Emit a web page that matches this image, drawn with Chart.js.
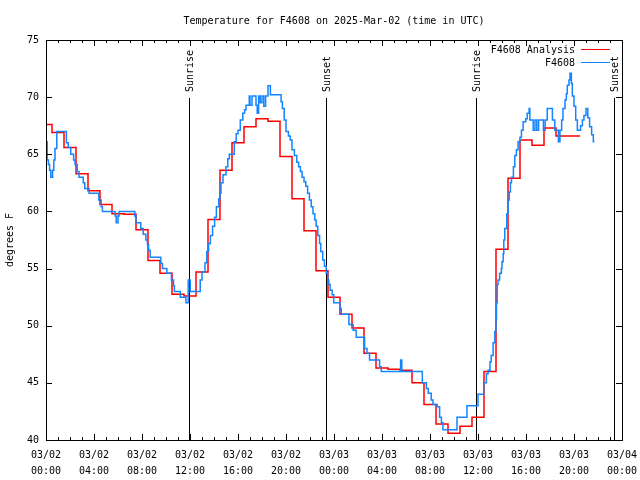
<!DOCTYPE html>
<html>
<head>
<meta charset="utf-8">
<script src="https://cdn.jsdelivr.net/npm/chart.js@4"></script>
<style>
    html, body { margin: 0; padding: 0; background: #fff; }
    #wrap { width: 640px; height: 480px; }
</style>
</head>
<body>
<div id="wrap"><canvas id="chart" width="640" height="480"></canvas></div>
<script>
// === DATA (hours since 03/02 00:00 UTC, degrees F) ===
const analysisHours = [0, 1, 2, 3, 4, 5, 6, 7, 8, 9, 10, 11, 12, 13, 14, 15, 16, 17, 18, 19, 20, 21, 22,
    23, 24, 25, 26, 27, 28, 29, 30, 31, 32, 33, 34, 35, 36, 37, 38, 39, 40, 41, 42, 43, 44, 44.5];
const analysisTemps = [67.6, 66.9, 65.6, 63.3, 61.8, 60.6, 59.8, 59.75, 58.4, 55.7, 54.6, 52.75, 52.6, 54.7,
    59.3, 63.6, 66.0, 67.4, 68.1, 67.9, 64.8, 61.1, 58.3, 54.8, 52.5, 51.0, 49.8, 47.6, 46.3, 46.2, 46.1,
    45.0, 43.1, 41.4, 40.6, 41.2, 42.0, 46.0, 56.7, 62.9, 66.25, 65.8, 67.3, 66.6, 66.6, 66.6];

// each observation holds from its time until the next one
const obsHours = [0.00, 0.10, 0.20, 0.30, 0.40, 0.55, 0.65, 0.75, 0.90, 1.70, 1.85, 2.06, 2.30, 2.42, 2.60,
    2.75, 3.10, 3.23, 3.59, 4.40, 4.60, 4.70, 5.76, 5.85, 6.00, 6.09, 7.40, 7.50, 7.90, 8.10, 8.32, 8.45,
    8.55, 8.68, 9.57, 9.70, 10.07, 10.45, 10.63, 10.70, 11.19, 11.66, 11.85, 12.02, 12.85, 13.00, 13.25,
    13.40, 13.55, 13.70, 13.88, 14.05, 14.20, 14.40, 14.50, 14.58, 14.75, 15.00, 15.15, 15.28, 15.69,
    15.85, 16.00, 16.19, 16.40, 16.55, 16.67, 16.94, 17.00, 17.17, 17.50, 17.60, 17.72, 17.85, 18.00,
    18.15, 18.30, 18.50, 18.70, 19.59, 19.70, 19.85, 20.00, 20.20, 20.35, 20.50, 20.70, 20.90, 21.05,
    21.20, 21.34, 21.50, 21.65, 21.80, 21.95, 22.10, 22.25, 22.40, 22.51, 22.65, 22.80, 22.90, 23.06,
    23.20, 23.35, 23.48, 23.57, 23.68, 23.85, 23.98, 24.50, 24.60, 25.24, 25.60, 25.85, 26.55, 26.75,
    26.96, 27.80, 27.94, 29.55, 29.65, 31.36, 31.70, 31.85, 32.10, 32.25, 32.60, 32.80, 32.95, 33.08,
    34.25, 35.08, 36.00, 36.48, 36.70, 36.84, 37.00, 37.10, 37.26, 37.40, 37.50, 37.54, 37.60, 37.67,
    37.80, 37.95, 38.00, 38.10, 38.15, 38.23, 38.40, 38.51, 38.60, 38.70, 38.79, 38.95, 39.07, 39.20,
    39.34, 39.50, 39.62, 39.76, 39.98, 40.10, 40.26, 40.32, 40.60, 40.75, 40.90, 41.05, 41.45, 41.60,
    41.77, 42.20, 42.40, 42.70, 42.83, 42.97, 43.08, 43.25, 43.36, 43.44, 43.58, 43.67, 43.78, 43.86,
    44.00, 44.14, 44.28, 44.55, 44.70, 44.83, 45.00, 45.15, 45.30, 45.47, 45.61, 45.70];
const obsTemps = [66.1, 64.5, 64.1, 63.6, 63.0, 63.6, 64.5, 65.5, 67.0, 66.0, 65.6, 65.0, 64.5, 64.1, 63.5,
    63.0, 62.5, 62.0, 61.6, 61.0, 60.4, 60.0, 59.6, 59.0, 59.6, 60.0, 59.6, 59.0, 58.5, 58.0, 57.5, 57.1,
    56.6, 56.0, 55.45, 55.0, 54.6, 54.0, 53.5, 53.0, 52.5, 52.0, 54.0, 53.0, 54.0, 54.7, 55.5,
    56.5, 57.2, 57.9, 58.7, 59.5, 60.4, 61.1, 61.6, 62.5, 63.2, 63.9, 64.6, 65.0, 66.1,
    66.8, 67.1, 68.0, 68.6, 68.9, 69.3, 70.1, 69.3, 70.1, 69.3, 68.6, 70.1, 69.5, 70.1,
    69.2, 70.1, 71.0, 70.2, 69.6, 69.0, 68.0, 67.0, 66.6, 66.25, 65.4, 64.9, 64.3, 63.9,
    63.5, 63.0, 62.6, 62.2, 61.6, 61.0, 60.4, 59.8, 59.25, 58.7, 57.9, 57.2, 56.5, 55.75,
    55.2, 54.6, 54.0, 53.6, 53.1, 52.7, 52.0, 51.5, 51.0, 50.1, 49.6, 49.0, 48.0, 47.6,
    47.0, 46.4, 46.0, 47.0, 46.0, 45.0, 44.5, 44.1, 43.5, 43.1, 42.9, 42.0, 41.5, 40.9,
    42.0, 43.0, 44.0, 45.0, 45.8, 46.1, 46.85, 47.4, 48.5, 49.5, 50.5, 52.0, 53.6, 54.0,
    54.6, 55.0, 55.6, 56.3, 57.5, 58.5, 59.8, 61.0, 61.7, 62.5, 63.0, 63.9, 64.9, 65.4,
    66.1, 66.5, 67.1, 67.85, 68.1, 68.6, 69.0, 68.0, 67.1, 68.0, 67.1, 68.0, 67.1, 68.0,
    69.0, 68.0, 67.1, 66.1, 67.1, 68.0, 69.0, 69.75, 70.3, 71.05, 71.5, 72.1, 71.2, 70.1,
    69.2, 68.0, 67.1, 67.5, 68.0, 68.4, 69.0, 68.2, 67.4, 66.7, 66.1, 66.1];

const sunHours = [11.94, 23.3, 35.81, 47.33];
const sunLabels = ['Sunrise', 'Sunset', 'Sunrise', 'Sunset'];

const xTickHours = [0, 4, 8, 12, 16, 20, 24, 28, 32, 36, 40, 44, 48];
const dayLabels = ['03/02', '03/02', '03/02', '03/02', '03/02', '03/02', '03/03', '03/03', '03/03', '03/03', '03/03', '03/03', '03/04'];
const timeLabels = ['00:00', '04:00', '08:00', '12:00', '16:00', '20:00', '00:00', '04:00', '08:00', '12:00', '16:00', '20:00', '00:00'];
const yTickValues = [40, 45, 50, 55, 60, 65, 70, 75];

const seriesNames = ['F4608 Analysis', 'F4608'];
const seriesColors = ['#ff0000', '#1484ff'];
const titleText = 'Temperature for F4608 on 2025-Mar-02 (time in UTC)';
const yTitleText = 'degrees F';

// === STYLE ===
const FONT_FAMILY = '"DejaVu Sans Mono", "Liberation Mono", monospace';
const FONT = `10px ${FONT_FAMILY}`;

// gnuplot-like frame, inward ticks, sun markers, title and legend
const gnuplotDecor = {
    id: 'gnuplotDecor',
    beforeDatasetsDraw(chart) {
        const { ctx, chartArea: a, scales: { x } } = chart;
        ctx.save();
        ctx.strokeStyle = '#000';
        ctx.fillStyle = '#000';
        ctx.lineWidth = 1;
        ctx.font = FONT;
        const lineTop = a.top + 58;
        sunHours.forEach((h, i) => {
            const px = Math.round(x.getPixelForValue(h)) + 0.5;
            ctx.beginPath();
            ctx.moveTo(px, a.bottom);
            ctx.lineTo(px, lineTop);
            ctx.stroke();
            ctx.save();
            ctx.translate(px + 1, lineTop - 6);
            ctx.rotate(-Math.PI / 2);
            ctx.textAlign = 'left';
            ctx.textBaseline = 'middle';
            ctx.fillText(sunLabels[i], 0, 0);
            ctx.restore();
        });
        ctx.restore();
    },
    afterDraw(chart) {
        const { ctx, chartArea: a, scales: { x, y } } = chart;
        ctx.save();
        ctx.strokeStyle = '#000';
        ctx.fillStyle = '#000';
        ctx.lineWidth = 1;

        // frame
        ctx.strokeRect(Math.round(a.left) + 0.5, Math.round(a.top) + 0.5,
            Math.round(a.right - a.left), Math.round(a.bottom - a.top));

        // x ticks, every hour, longer every 4 hours
        ctx.beginPath();
        for (let h = 0; h <= 48; h++) {
            const px = Math.round(x.getPixelForValue(h)) + 0.5;
            const len = h % 4 === 0 ? 6 : 3;
            ctx.moveTo(px, a.bottom); ctx.lineTo(px, a.bottom - len);
            ctx.moveTo(px, a.top); ctx.lineTo(px, a.top + len);
        }
        yTickValues.forEach(v => {
            const py = Math.round(y.getPixelForValue(v)) + 0.5;
            ctx.moveTo(a.left, py); ctx.lineTo(a.left + 6, py);
            ctx.moveTo(a.right, py); ctx.lineTo(a.right - 6, py);
        });
        ctx.stroke();

        ctx.font = FONT;
        // title, centred over the plot area like gnuplot
        ctx.textAlign = 'center';
        ctx.textBaseline = 'middle';
        ctx.fillText(titleText, (a.left + a.right) / 2, 21);

        // y axis title
        ctx.save();
        ctx.translate(10, (a.top + a.bottom) / 2);
        ctx.rotate(-Math.PI / 2);
        ctx.fillText(yTitleText, 0, 0);
        ctx.restore();

        // legend (top right, inside plot)
        ctx.textAlign = 'right';
        seriesNames.forEach((name, i) => {
            const ty = a.top + 10 + i * 13;
            ctx.fillStyle = '#000';
            ctx.fillText(name, a.right - 47, ty);
            ctx.strokeStyle = seriesColors[i];
            ctx.beginPath();
            ctx.moveTo(a.right - 41, Math.round(ty) - 0.5);
            ctx.lineTo(a.right - 12, Math.round(ty) - 0.5);
            ctx.stroke();
        });
        ctx.restore();
    }
};

const ctx = document.getElementById('chart').getContext('2d');
new Chart(ctx, {
    type: 'line',
    data: {
        datasets: [{
            label: seriesNames[0],
            data: analysisHours.map((h, i) => ({ x: h, y: analysisTemps[i] })),
            borderColor: seriesColors[0],
            borderWidth: 1.5,
            pointRadius: 0,
            stepped: 'middle',
            fill: false,
            order: 1
        }, {
            label: seriesNames[1],
            data: obsHours.map((h, i) => ({ x: h, y: obsTemps[i] })),
            borderColor: seriesColors[1],
            borderWidth: 1.5,
            pointRadius: 0,
            stepped: 'before',
            fill: false,
            order: 0
        }]
    },
    options: {
        responsive: false,
        animation: false,
        devicePixelRatio: 1,
        layout: { padding: { left: 0, right: 18, top: 40, bottom: 0 } },
        plugins: {
            legend: { display: false },
            title: { display: false },
            tooltip: { enabled: false }
        },
        scales: {
            x: {
                type: 'linear',
                min: 0,
                max: 48,
                afterBuildTicks: (s) => { s.ticks = xTickHours.map(v => ({ value: v })); },
                afterFit: (s) => { s.height = 40; s.paddingLeft = 0; s.paddingRight = 0; },
                grid: { display: false, drawTicks: false },
                border: { display: false },
                ticks: {
                    color: '#000',
                    font: { family: FONT_FAMILY, size: 10, lineHeight: 1.6 },
                    padding: 7,
                    maxRotation: 0,
                    autoSkip: false,
                    callback: (v) => {
                        const i = xTickHours.indexOf(v);
                        return [dayLabels[i], timeLabels[i]];
                    }
                }
            },
            y: {
                min: 40,
                max: 75,
                afterBuildTicks: (s) => { s.ticks = yTickValues.map(v => ({ value: v })); },
                afterFit: (s) => { s.width = 46; s.paddingTop = 0; s.paddingBottom = 0; },
                grid: { display: false, drawTicks: false },
                border: { display: false },
                ticks: {
                    color: '#000',
                    font: { family: FONT_FAMILY, size: 10 },
                    padding: 7
                }
            }
        }
    },
    plugins: [gnuplotDecor]
});
</script>
</body>
</html>
